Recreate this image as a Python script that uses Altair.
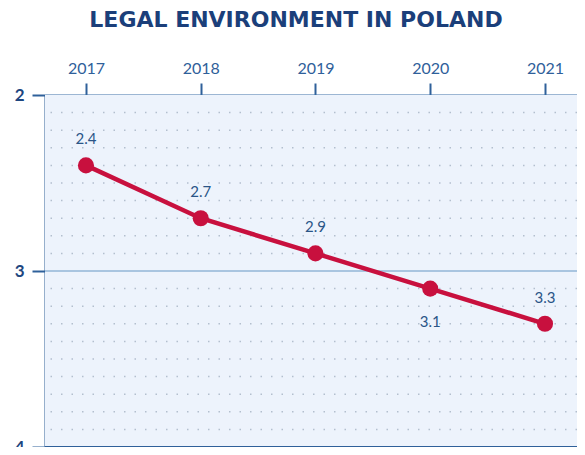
import altair as alt
import pandas as pd

years = [2017, 2018, 2019, 2020, 2021]
values = [2.4, 2.7, 2.9, 3.1, 3.3]
label_side = ["above", "above", "above", "below", "above"]
title_text = "LEGAL ENVIRONMENT IN POLAND"
y_major = [2, 3, 4]
y_minor = [2.1, 2.2, 2.3, 2.4, 2.5, 2.6, 2.7, 2.8, 2.9,
           3.1, 3.2, 3.3, 3.4, 3.5, 3.6, 3.7, 3.8, 3.9]

df = pd.DataFrame({"year": years, "value": values, "side": label_side})
df["label"] = df["value"].map(lambda v: f"{v:.1f}")
grid_df = pd.DataFrame({"value": y_minor})

NAVY = "#1d467f"
AXIS = "#2f609a"
RED = "#c8103e"
FONT = "Lato"
W, H = 532, 352

x_enc = alt.X(
    "year:Q",
    scale=alt.Scale(domain=[2016.643, 2021.279], nice=False, zero=False),
    axis=alt.Axis(
        orient="top", values=years, format="d", title=None, grid=False,
        labelFont=FONT, labelFontSize=16, labelColor=AXIS, labelPadding=7,
        labelOverlap=False,
        tickSize=12, tickWidth=2, tickColor=AXIS,
        domainColor="#3b6ea8", domainWidth=2,
    ),
)
y_scale = alt.Scale(domain=[2, 4], reverse=True, nice=False, zero=False)
y_enc = alt.Y(
    "value:Q",
    scale=y_scale,
    axis=alt.Axis(
        orient="left", values=y_major, title=None, tickCount=10,
        labelExpr="format(datum.value, 'd')",
        labelOverlap=False, labelFlush=False,
        labelFont=FONT, labelFontSize=17, labelFontWeight="bold",
        labelColor=NAVY, labelPadding=8,
        tickSize=13, tickWidth=2, tickColor=AXIS,
        domainColor=AXIS, domainWidth=2, grid=False,
    ),
)

base = alt.Chart(df).encode(x=x_enc, y=y_enc)

bg = alt.Chart(df).mark_rect(color="#edf3fc").encode(
    x=alt.value(0), x2=alt.value(W), y=alt.value(0), y2=alt.value(H)
)
minor = alt.Chart(grid_df).mark_rule(
    color="#b3bfce", strokeWidth=1.5, strokeDash=[1.5, 9]
).encode(y=alt.Y("value:Q", scale=y_scale))
major = alt.Chart(df).mark_rule(color="#a9c5e0", strokeWidth=2).encode(y=alt.datum(3))
bottom = alt.Chart(df).mark_rule(color=AXIS, strokeWidth=2).encode(y=alt.datum(4))

line = base.mark_line(color=RED, strokeWidth=4.5)
points = base.mark_point(filled=True, color=RED, size=260, opacity=1)
lab_above = base.transform_filter("datum.side == 'above'").mark_text(
    dy=-26, font=FONT, fontSize=15, color="#2a5587"
).encode(text="label:N")
lab_below = base.transform_filter("datum.side == 'below'").mark_text(
    dy=33, font=FONT, fontSize=15, color="#2a5587"
).encode(text="label:N")

chart = (
    alt.layer(bg, minor, major, bottom, line, points, lab_above, lab_below)
    .properties(
        width=W, height=H,
        padding={"left": 37, "top": 87, "right": 0, "bottom": 0},
        autosize="none",
        title=alt.TitleParams(
            title_text, font="DejaVu Sans", fontSize=22, fontWeight="bold",
            color="#1b3f7a", anchor="middle", offset=28, dx=-15,
        ),
    )
    .configure_view(stroke=None)
    .configure(background="white")
)

chart.save("out.html", embed_options={"renderer": "svg", "actions": False})
